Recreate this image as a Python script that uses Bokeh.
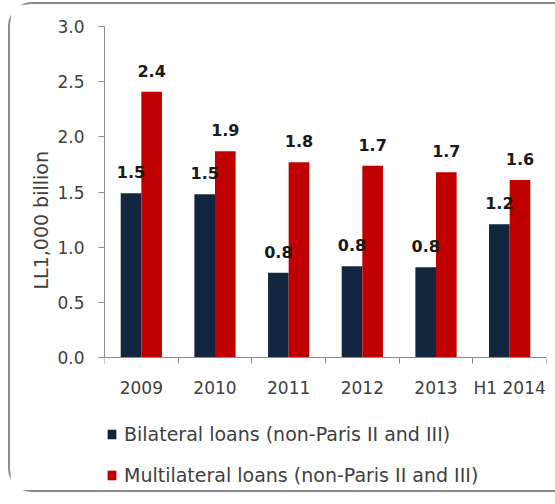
from bokeh.plotting import figure
from bokeh.models import (Range1d, FixedTicker, NumeralTickFormatter, Legend, LegendItem,
                          ColumnDataSource, Title)
from bokeh.core.properties import value
from bokeh.embed import file_html
from bokeh.resources import INLINE

# ---- data ----
categories = ["2009", "2010", "2011", "2012", "2013", "H1 2014"]
bilateral = [1.49, 1.48, 0.77, 0.83, 0.82, 1.21]
multilateral = [2.41, 1.87, 1.77, 1.74, 1.68, 1.61]
series_names = ["Bilateral loans (non-Paris II and III)",
                "Multilateral loans (non-Paris II and III)"]
y_ticks = [0.0, 0.5, 1.0, 1.5, 2.0, 2.5, 3.0]
y_label = "LL1,000 billion"

NAVY = "#132640"
RED = "#C00000"
TXT = "#404040"
AX = "#8a8a8a"
FONT = "DejaVu Sans"

n = len(categories)
centers = [i + 0.5 for i in range(n)]
bw = 0.28

# frame extends below zero so the legend (below the axis) stays inside it
p = figure(width=547, height=490, output_backend="svg", toolbar_location=None,
           x_range=Range1d(0, n), y_range=Range1d(-1.238, 3.0),
           min_border_left=94, min_border_right=11, min_border_top=22,
           min_border_bottom=0)
p.styles = {"border-left": "2px solid #8c8c8c", "border-top": "2px solid #8c8c8c",
            "border-bottom": "2px solid #8c8c8c",
            "border-top-left-radius": "24px", "border-bottom-left-radius": "24px",
            "margin-top": "2px", "margin-left": "8px"}
p.outline_line_color = None
p.xgrid.visible = False
p.ygrid.visible = False
p.background_fill_color = "white"
p.border_fill_color = "white"

src_b = ColumnDataSource(dict(x=[c - bw / 2 for c in centers], top=bilateral,
                              lab=[f"{v:.1f}" for v in bilateral]))
src_m = ColumnDataSource(dict(x=[c + bw / 2 for c in centers], top=multilateral,
                              lab=[f"{v:.1f}" for v in multilateral]))

rb = p.vbar(x="x", top="top", bottom=0, width=bw, source=src_b, fill_color=NAVY, line_color=None)
rm = p.vbar(x="x", top="top", bottom=0, width=bw, source=src_m, fill_color=RED, line_color=None)

for src in (src_b, src_m):
    p.text(x="x", y="top", text="lab", source=src, text_align="center",
           text_baseline="middle", y_offset=-21, text_font_size="16px",
           text_font_style="bold", text_color="#1a1a1a", text_font=value(FONT))

# y axis
ya = p.yaxis[0]
ya.bounds = (y_ticks[0], y_ticks[-1])
ya.ticker = FixedTicker(ticks=y_ticks)
ya.formatter = NumeralTickFormatter(format="0.0")
ya.axis_line_color = AX
ya.major_tick_line_color = AX
ya.major_tick_out = 6
ya.major_tick_in = 0
ya.minor_tick_line_color = None
ya.major_label_text_font = FONT
ya.major_label_text_font_size = "17px"
ya.major_label_text_color = TXT
ya.major_label_standoff = 14

# y axis title, placed beside the tick labels
p.add_layout(Title(text=y_label, align="left", offset=205, standoff=6,
                   text_font=FONT, text_font_size="19px", text_font_style="normal",
                   text_color=TXT), "left")

# x axis at y=0: labels at centers, tick marks at category boundaries
xa = p.xaxis[0]
xa.fixed_location = 0
xa.ticker = FixedTicker(ticks=centers, minor_ticks=list(range(n + 1)))
xa.major_label_overrides = {c: lab for c, lab in zip(centers, categories)}
xa.axis_line_color = AX
xa.major_tick_line_color = None
xa.major_tick_out = 0
xa.major_tick_in = 0
xa.minor_tick_line_color = AX
xa.minor_tick_out = 6
xa.minor_tick_in = 0
xa.major_label_text_font = FONT
xa.major_label_text_font_size = "17px"
xa.major_label_text_color = TXT
xa.major_label_standoff = 14

legend = Legend(items=[LegendItem(label=series_names[0], renderers=[rb]),
                       LegendItem(label=series_names[1], renderers=[rm])],
                location=(2, 8), orientation="vertical",
                glyph_width=11, glyph_height=12, label_height=22,
                label_standoff=7, spacing=19, padding=0, margin=0,
                label_text_font=FONT, label_text_font_size="19px",
                label_text_color=TXT, border_line_alpha=0,
                background_fill_alpha=0)
p.add_layout(legend, "center")

open("out.html", "w").write(file_html(p, INLINE))
